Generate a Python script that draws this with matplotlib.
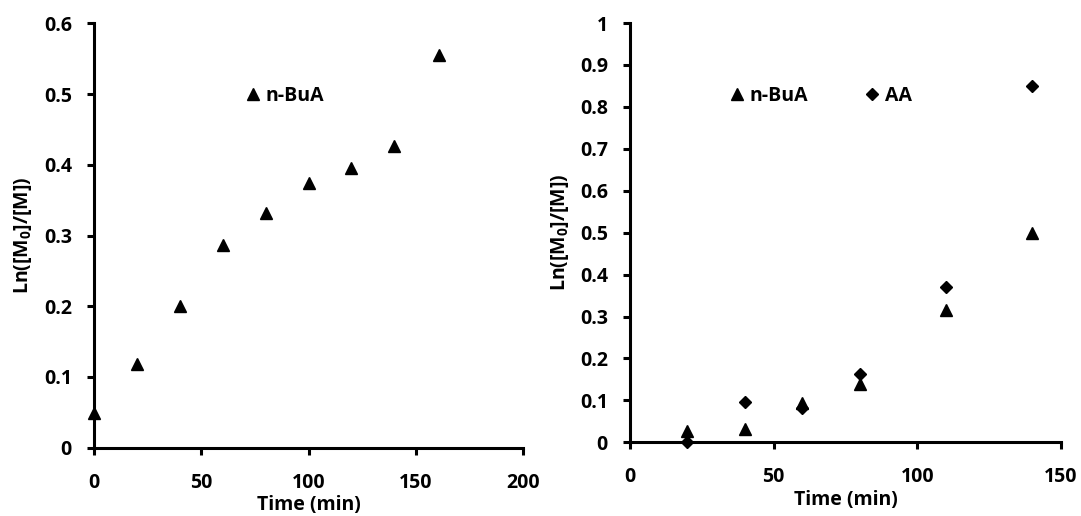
import matplotlib
matplotlib.use('Agg')

import matplotlib.pyplot as plt
import numpy as np

plt.rcParams['font.family'] = ['Open Sans', 'DejaVu Sans']
plt.rcParams['font.weight'] = 'bold'
plt.rcParams['mathtext.fontset'] = 'custom'
plt.rcParams['mathtext.rm'] = 'Open Sans:bold'

# --- Data ---
# left panel: n-BuA homopolymerisation
time_left = [0, 20, 40, 60, 80, 100, 120, 140, 161]
nbua_left = [0.049, 0.119, 0.200, 0.287, 0.332, 0.374, 0.395, 0.426, 0.556]

# right panel: copolymerisation n-BuA / AA
time_right = [20, 40, 60, 80, 110, 140]
nbua_right = [0.027, 0.032, 0.093, 0.139, 0.315, 0.500]
aa_right = [0.000, 0.096, 0.081, 0.163, 0.370, 0.849]

left_yticks = [0, 0.1, 0.2, 0.3, 0.4, 0.5, 0.6]
left_xticks = [0, 50, 100, 150, 200]
right_yticks = [0, 0.1, 0.2, 0.3, 0.4, 0.5, 0.6, 0.7, 0.8, 0.9, 1]
right_xticks = [0, 50, 100, 150]

ylabel = r'Ln([M$_\mathregular{0}$]/[M])'
xlabel = 'Time (min)'


def fmt(v):
    return f'{v:g}'


def style_axes(ax, xticks, yticks, ylabelpad):
    for s in ['top', 'right']:
        ax.spines[s].set_visible(False)
    for s in ['left', 'bottom']:
        ax.spines[s].set_linewidth(2.2)
    ax.set_xticks(xticks)
    ax.set_xticklabels([fmt(v) for v in xticks])
    ax.set_yticks(yticks)
    ax.set_yticklabels([fmt(v) for v in yticks])
    ax.set_xlim(xticks[0], xticks[-1])
    ax.set_ylim(yticks[0], yticks[-1])
    ax.tick_params(axis='x', direction='out', length=5, width=2.2, labelsize=14, pad=13)
    ax.tick_params(axis='y', direction='out', length=5, width=2.2, labelsize=14, pad=11)
    ax.set_xlabel(xlabel, fontsize=14, fontweight='bold', labelpad=2)
    ax.set_ylabel(ylabel, fontsize=14, fontweight='bold', labelpad=ylabelpad)
    for lab in ax.get_xticklabels() + ax.get_yticklabels():
        lab.set_fontweight('bold')


fig = plt.figure(figsize=(10.81, 5.16), dpi=100)
ax1 = fig.add_axes([0.0870, 0.1324, 0.3969, 0.8221])
ax2 = fig.add_axes([0.5828, 0.1428, 0.3987, 0.8126])

ax1.plot(time_left, nbua_left, linestyle='none', marker='^', markersize=9,
         color='black', label='n-BuA', clip_on=False)
style_axes(ax1, left_xticks, left_yticks, 7)
ax1.legend(loc='center left', bbox_to_anchor=(0.352, 0.829), frameon=False,
           handlelength=0.8, handletextpad=0.25, borderpad=0, borderaxespad=0,
           prop={'size': 14, 'weight': 'bold'})

ax2.plot(time_right, nbua_right, linestyle='none', marker='^', markersize=9,
         color='black', label='n-BuA', clip_on=False)
ax2.plot(time_right, aa_right, linestyle='none', marker='D', markersize=6.5,
         color='black', label='AA', clip_on=False)
style_axes(ax2, right_xticks, right_yticks, 6)
ax2.legend(loc='center left', bbox_to_anchor=(0.2297, 0.826), frameon=False, ncol=2,
           handlelength=0.8, handletextpad=0.25, columnspacing=2.9, borderpad=0,
           borderaxespad=0, prop={'size': 14, 'weight': 'bold'})

plt.savefig('out.png', dpi=100)
